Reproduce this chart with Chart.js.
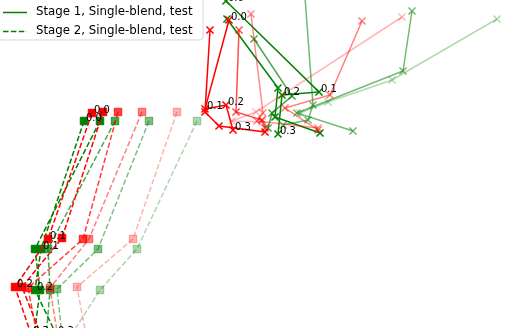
<!DOCTYPE html>
<html>
<head>
<meta charset="utf-8">
<script src="https://cdn.jsdelivr.net/npm/chart.js@4"></script>
<style>
html,body{margin:0;padding:0;background:#fff;}
#wrap{position:relative;width:515px;height:328px;}
</style>
</head>
<body>
<div id="wrap"><canvas id="c"></canvas></div>
<script>
// ---- data ----
const stepLabels = ['0.0', '0.1', '0.2', '0.3'];

// Stage 1 (solid, x markers), red runs
const stage1RedX = [[229,205,226,233],[210,205,219,265],[239,236,262,265],[251,263,257,318],[362,330,285,318],[402,256,232,262]];
const stage1RedY = [[20,109,105,130],[30,112,126,132],[30,112,120,128],[14,113,121,128],[21,95,108,130],[17,112,121,122]];
// Stage 1 (solid, x markers), green runs
const stage1GreenX = [[226,319,282,278],[227,278,275,320],[254,292,272,268],[303,313,308,283],[412,403,297,353],[497,392,328,300]];
const stage1GreenY = [[1,92,95,134],[19,88,117,133],[39,96,113,128],[-30,105,120,125],[11,71,113,131],[19,80,102,113]];
// Stage 2 (dashed, square markers), red runs
const stage2RedX = [[92,48,15,31],[103,62,22,45],[118,83,28,40],[142,89,50,60],[177,133,77,87]];
const stage2RedY = [[113,239,287,334],[112,238,287,345],[112,239,288,350],[112,239,288,350],[112,239,287,340]];
// Stage 2 (dashed, square markers), green runs
const stage2GreenX = [[84,41,35,56],[100,35,40,33],[115,48,50,45],[149,98,57,63],[197,137,100,68]];
const stage2GreenY = [[121,249,290,334],[121,249,290,345],[121,249,290,350],[121,249,289,345],[121,249,290,340]];

const legendLabels = ['Stage 2, Multi-blend, test', 'Stage 1, Single-blend, test', 'Stage 2, Single-blend, test'];

// ---- styles ----
const stage1Alpha = [1, 1, 0.7, 0.45, 0.5, 0.28];
const stage1GAlpha = [1, 1, 0.7, 0.55, 0.55, 0.3];
const stage2Alpha = [1, 1, 0.75, 0.5, 0.3];
const stage2GAlpha = [1, 1, 0.7, 0.5, 0.32];
const RED = [255, 0, 0], GREEN = [0, 128, 0];
function rgba(c, a) { return 'rgba(' + c[0] + ',' + c[1] + ',' + c[2] + ',' + a + ')'; }

const datasets = [];
function addGroup(xs, ys, alphas, col, dashed) {
  xs.forEach((xr, i) => {
    const a = alphas[i];
    datasets.push({
      data: xr.map((x, j) => ({ x: x, y: ys[i][j] })),
      showLine: true,
      borderColor: rgba(col, a),
      backgroundColor: rgba(col, a),
      pointBorderColor: rgba(col, a),
      pointBackgroundColor: rgba(col, a),
      borderWidth: 1.5,
      borderDash: dashed ? [5.5, 2.4] : [],
      pointStyle: dashed ? 'rect' : 'crossRot',
      pointRadius: dashed ? 5.3 : 5,
      pointBorderWidth: dashed ? 1 : 1.5,
      pointHoverRadius: dashed ? 5.3 : 5,
      tension: 0,
      labelled: i === 0
    });
  });
}
addGroup(stage1RedX, stage1RedY, stage1Alpha, RED, false);
addGroup(stage1GreenX, stage1GreenY, stage1GAlpha, GREEN, false);
addGroup(stage2RedX, stage2RedY, stage2Alpha, RED, true);
addGroup(stage2GreenX, stage2GreenY, stage2GAlpha, GREEN, true);

const labelPlugin = {
  id: 'stepLabels',
  afterDatasetsDraw(chart) {
    const ctx = chart.ctx;
    ctx.save();
    ctx.font = '10px "DejaVu Sans"';
    ctx.fillStyle = '#000';
    ctx.textBaseline = 'alphabetic';
    ctx.textAlign = 'left';
    chart.data.datasets.forEach((ds, di) => {
      if (!ds.labelled) return;
      const meta = chart.getDatasetMeta(di);
      meta.data.forEach((pt, j) => {
        ctx.fillText(stepLabels[j], pt.x + 2, pt.y);
      });
    });
    ctx.restore();
  }
};

const legendPlugin = {
  id: 'legendBox',
  afterDraw(chart) {
    const ctx = chart.ctx;
    ctx.save();
    ctx.beginPath();
    if (ctx.roundRect) ctx.roundRect(-8, -40, 211, 80, 3); else ctx.rect(-8, -40, 211, 80);
    ctx.fillStyle = 'rgba(255,255,255,0.8)';
    ctx.fill();
    ctx.strokeStyle = 'rgba(204,204,204,0.8)';
    ctx.lineWidth = 1;
    ctx.stroke();
    const rows = [-7, 12, 31];
    const cols = [RED, GREEN, GREEN];
    const dash = [true, false, true];
    ctx.font = '11.8px "DejaVu Sans"';
    ctx.textBaseline = 'middle';
    rows.forEach((y, i) => {
      ctx.beginPath();
      ctx.setLineDash(dash[i] ? [5.5, 2.4] : []);
      ctx.strokeStyle = rgba(cols[i], 1);
      ctx.lineWidth = 1.5;
      ctx.moveTo(3, y + 0.5);
      ctx.lineTo(27, y + 0.5);
      ctx.stroke();
      ctx.setLineDash([]);
      ctx.fillStyle = '#000';
      ctx.fillText(legendLabels[i], 36, y);
    });
    ctx.restore();
  }
};

new Chart(document.getElementById('c'), {
  type: 'scatter',
  data: { datasets: datasets },
  options: {
    responsive: true,
    maintainAspectRatio: false,
    animation: false,
    layout: { padding: 0, autoPadding: false },
    plugins: { legend: { display: false }, tooltip: { enabled: false } },
    scales: {
      x: { type: 'linear', display: false, min: 0, max: 515 },
      y: { type: 'linear', display: false, min: 0, max: 328, reverse: true }
    }
  },
  plugins: [labelPlugin, legendPlugin]
});
</script>
</body>
</html>
